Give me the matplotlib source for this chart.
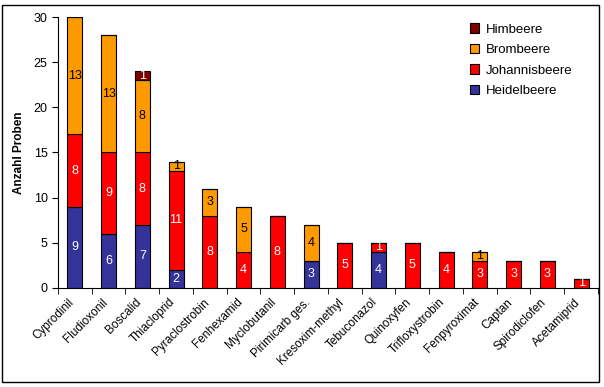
import numpy as np
import matplotlib.pyplot as plt
import matplotlib.transforms as mtransforms
from matplotlib.patches import Rectangle

plt.rcParams['font.family'] = ['Liberation Sans', 'DejaVu Sans']

# Wirkstoffe und Anzahl Proben je Beerenart
wirkstoffe = ["Cyprodinil", "Fludioxonil", "Boscalid", "Thiacloprid", "Pyraclostrobin",
              "Fenhexamid", "Myclobutanil", "Pirimicarb ges.", "Kresoxim-methyl",
              "Tebuconazol", "Quinoxyfen", "Trifloxystrobin", "Fenpyroximat",
              "Captan", "Spirodiclofen", "Acetamiprid"]
heidelbeere   = [9, 6, 7, 2, 0, 0, 0, 3, 0, 4, 0, 0, 0, 0, 0, 0]
johannisbeere = [8, 9, 8, 11, 8, 4, 8, 0, 5, 1, 5, 4, 3, 3, 3, 1]
brombeere     = [13, 13, 8, 1, 3, 5, 0, 4, 0, 0, 0, 0, 1, 0, 0, 0]
himbeere      = [0, 0, 1, 0, 0, 0, 0, 0, 0, 0, 0, 0, 0, 0, 0, 0]

serien = [
    ("Heidelbeere", heidelbeere, "#333399", "white"),
    ("Johannisbeere", johannisbeere, "#FF0000", "white"),
    ("Brombeere", brombeere, "#FF9900", "black"),
    ("Himbeere", himbeere, "#800000", "white"),
]

fig = plt.figure(figsize=(6.04, 3.87), dpi=100)
ax = fig.add_axes([0.096, 0.256, 0.894, 0.70])

x = np.arange(len(wirkstoffe))
bottom = np.zeros(len(wirkstoffe))
handles = []
for name, vals, col, tcol in serien:
    vals = np.array(vals)
    bars = ax.bar(x, vals, 0.44, bottom=bottom, color=col, edgecolor="black",
                  linewidth=0.8, label=name)
    handles.append(bars)
    for xi, v, b in zip(x, vals, bottom):
        if v > 0:
            ax.text(xi, b + v / 2, str(v), ha="center", va="center",
                    color=tcol, fontsize=9)
    bottom += vals

ax.set_xlim(-0.5, len(wirkstoffe) - 0.5)
ax.set_ylim(0, 30)
ax.set_yticks(range(0, 31, 5))
ax.tick_params(axis="y", labelsize=9, length=4, direction="out")

ax.set_xticks(x)
ax.set_xticklabels(wirkstoffe, rotation=45, ha="right", rotation_mode="anchor", fontsize=8.5)
ax.tick_params(axis="x", length=0, pad=6)
shift = mtransforms.ScaledTranslation(-5 / 72, 0, fig.dpi_scale_trans)
for lbl in ax.get_xticklabels():
    lbl.set_transform(lbl.get_transform() + shift)
ax.set_xticks(np.arange(-0.5, len(wirkstoffe)), minor=True)
ax.tick_params(axis="x", which="minor", length=4, direction="out")

for s in ["top", "right"]:
    ax.spines[s].set_visible(False)

ax.set_ylabel("Anzahl Proben", fontsize=8.5, fontweight="bold", labelpad=6)

leg = ax.legend(handles[::-1], [s[0] for s in serien][::-1], loc="upper right",
                bbox_to_anchor=(0.975, 1.02), frameon=False, fontsize=9.5,
                handlelength=0.7, handleheight=0.7, labelspacing=0.62, handletextpad=0.5)

fig.patches.append(Rectangle((0.004, 0.012), 0.988, 0.976, transform=fig.transFigure,
                             fill=False, edgecolor="black", linewidth=1))

fig.savefig("out.png", dpi=100)
